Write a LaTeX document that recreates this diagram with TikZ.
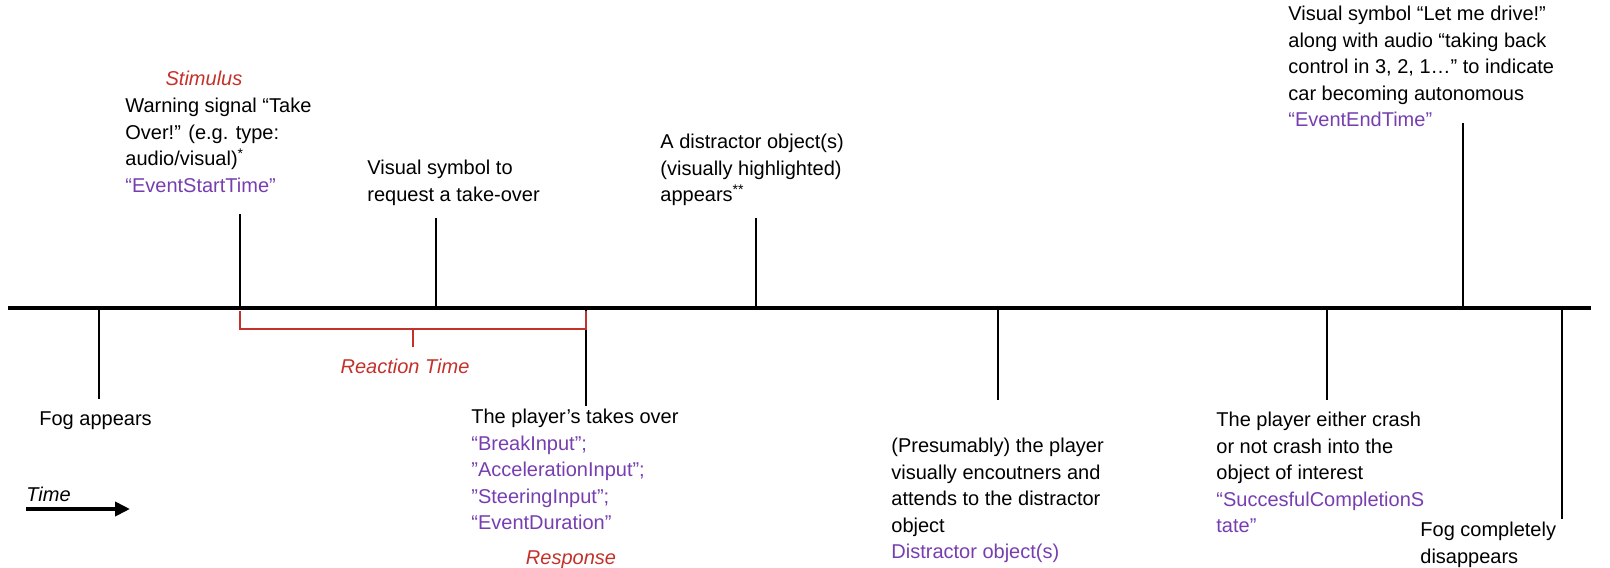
\documentclass[tikz,border=0pt]{standalone}
\usepackage{fontspec}
\setmainfont{Liberation Sans}
\usetikzlibrary{arrows.meta}
\definecolor{evpurple}{RGB}{118,62,176}
\definecolor{evred}{RGB}{196,48,42}
\begin{document}
\begin{tikzpicture}[x=0.5pt,y=-0.5pt,
  lbl/.style={anchor=north west, inner sep=0pt, align=left,
    font=\fontsize{10}{13.25}\selectfont, text=black},
  tag/.style={inner sep=0pt, font=\fontsize{10}{12}\selectfont\itshape, text=evred},
  axis/.style={line width=2.2pt},
  tick/.style={line width=1.25pt},
  bracket/.style={draw=evred, line width=0.7pt}]
\useasboundingbox (0,0) rectangle (1610,567);

% main time axis
\coordinate (ax-l) at (8,308);
\coordinate (ax-r) at (1591,308);
\draw[axis] (ax-l) -- (ax-r);

% points on the axis
\coordinate (p-fog)    at (99,308);
\coordinate (p-stim)   at (240,308);
\coordinate (p-req)    at (436,308);
\coordinate (p-resp)   at (586,308);
\coordinate (p-dist)   at (756,308);
\coordinate (p-enc)    at (998,308);
\coordinate (p-crash)  at (1327,308);
\coordinate (p-end)    at (1463,308);
\coordinate (p-fogend) at (1562,308);

% tick ends
\coordinate (e-fog)    at (99,399);
\coordinate (e-stim)   at (240,214);
\coordinate (e-req)    at (436,218);
\coordinate (e-resp)   at (586,406);
\coordinate (e-dist)   at (756,218);
\coordinate (e-enc)    at (998,400);
\coordinate (e-crash)  at (1327,400);
\coordinate (e-end)    at (1463,123);
\coordinate (e-fogend) at (1562,519);

\foreach \n in {fog,stim,req,resp,dist,enc,crash,end,fogend}
  \draw[tick] (p-\n) -- (e-\n);

% reaction time bracket
\coordinate (b-l)  at (240,329);
\coordinate (b-r)  at (586,329);
\coordinate (b-m)  at (413,329);
\coordinate (b-mt) at (413,347);
\draw[bracket] (240,311) -- (b-l) -- (b-r) -- (586,311);
\draw[bracket] (b-m) -- (b-mt);
\node[tag, anchor=center] (rt) at (405,366) {Reaction Time};

% labels above the axis
\node[tag, anchor=center] (stimtag) at (204,78) {Stimulus};
\node[lbl] (stim) at (125,98) {Warning signal “Take\\Over!” (e.g. type:\\audio/visual)\textsuperscript{*}\\\textcolor{evpurple}{“EventStartTime”}};
\node[lbl] (req) at (367,160) {Visual symbol to\\request a take-over};
\node[lbl] (dist) at (660,134) {A distractor object(s)\\(visually highlighted)\\appears\textsuperscript{**}};
\node[lbl] (end) at (1288,6) {Visual symbol “Let me drive!”\\along with audio “taking back\\control in 3, 2, 1…” to indicate\\car becoming autonomous\\\textcolor{evpurple}{“EventEndTime”}};

% labels below the axis
\node[lbl] (fog) at (39,411) {Fog appears};
\node[lbl] (resp) at (471,409) {The player’s takes over\\\textcolor{evpurple}{“BreakInput”;}\\\textcolor{evpurple}{”AccelerationInput”;}\\\textcolor{evpurple}{”SteeringInput”;}\\\textcolor{evpurple}{“EventDuration”}};
\node[tag, anchor=center] (resptag) at (571,560) {Response};
\node[lbl] (enc) at (891,438) {(Presumably) the player\\visually encoutners and\\attends to the distractor\\object\\\textcolor{evpurple}{Distractor object(s)}};
\node[lbl] (crash) at (1216,412) {The player either crash\\or not crash into the\\object of interest\\\textcolor{evpurple}{“SuccesfulCompletionS}\\\textcolor{evpurple}{tate”}};
\node[lbl] (fogend) at (1420,522) {Fog completely\\disappears};

% direction of time
\node[inner sep=0pt, anchor=west, font=\fontsize{10}{12}\selectfont\itshape] (time) at (26,494) {Time};
\coordinate (tm-l) at (26,509);
\coordinate (tm-r) at (130,509);
\draw[line width=2pt, -{Triangle[length=7.5pt,width=7pt]}] (tm-l) -- (tm-r);
\end{tikzpicture}
\end{document}
